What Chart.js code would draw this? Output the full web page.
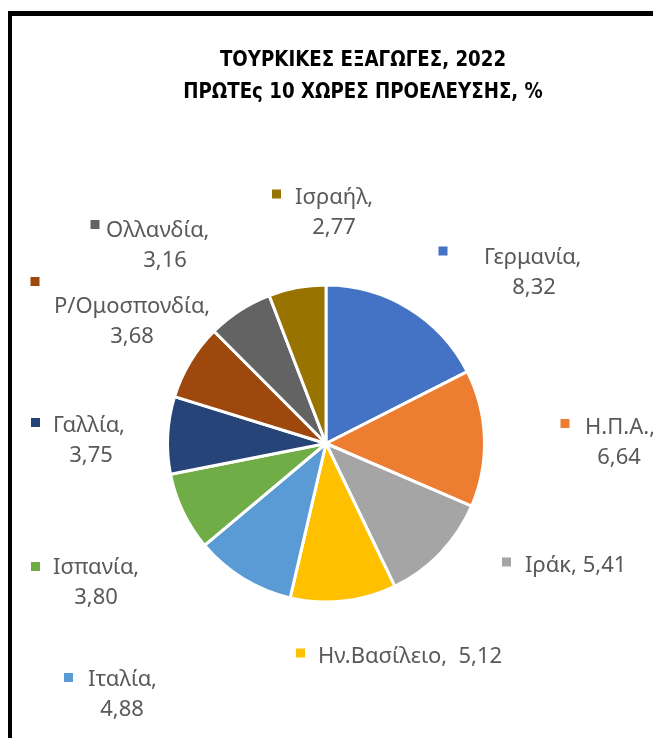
<!DOCTYPE html>
<html>
<head>
<meta charset="utf-8">
<script src="https://cdn.jsdelivr.net/npm/chart.js@4.4.1/dist/chart.umd.min.js"></script>
<style>
  html, body { margin: 0; padding: 0; background: #fff; }
  #frame { position: absolute; left: 8px; top: 11px; right: 0; bottom: 0; border-top: 5px solid #000; border-left: 4px solid #000; }
  canvas { position: absolute; left: 0; top: 0; }
</style>
</head>
<body>
<div id="frame"></div>
<canvas id="pie" width="653" height="738"></canvas>
<script>
"use strict";

// 1: data
const titleLines = ['ΤΟΥΡΚΙΚΕΣ ΕΞΑΓΩΓΕΣ, 2022', 'ΠΡΩΤΕς 10 ΧΩΡΕΣ ΠΡΟΕΛΕΥΣΗΣ, %'];
const countries = ['Γερμανία', 'Η.Π.Α.', 'Ιράκ', 'Ην.Βασίλειο', 'Ιταλία',
  'Ισπανία', 'Γαλλία', 'Ρ/Ομοσπονδία', 'Ολλανδία', 'Ισραήλ'];
const shares = [8.32, 6.64, 5.41, 5.12, 4.88, 3.80, 3.75, 3.68, 3.16, 2.77];
const sliceColours = ['#4472C4', '#ED7D31', '#A5A5A5', '#FFC000', '#5B9BD5',
  '#70AD47', '#264478', '#9E480E', '#636363', '#997300'];

// 2: where the (hand dragged) labels sit, px from the pie centre
// key = centre of the colour square, text = start of name + cap middle, mid = centre of value line
const labelSpots = [
  {key: [117, -192.5], text: [158, -187.5], mid: 208},
  {key: [239, -20], text: [259, -17.5], mid: 293},
  {key: [180.5, 118.5], text: [199, 121], sep: ', '},
  {key: [-25.5, 209.5], text: [-8, 211.5], sep: ',  '},
  {key: [-257.5, 234], text: [-238, 235], mid: -204},
  {key: [-290.5, 123], text: [-273, 123], mid: -230},
  {key: [-290.5, -21], text: [-273, -19], mid: -235},
  {key: [-291, -162], text: [null, -138], mid: -194},
  {key: [-231, -219], text: [-220, -214.5], mid: -161},
  {key: [-49.5, -249.5], text: [-31, -247], mid: 8}
];

const labelFont = '22px "Noto Sans"';
const labelColour = '#595959';
const lineGap = 30;

// 3: plugins for title and data labels
const excelTitle = {
  id: 'excelTitle',
  afterDraw(chart) {
    const ctx = chart.ctx;
    ctx.save();
    ctx.font = 'bold 22px "Liberation Sans Narrow", "DejaVu Sans Condensed", sans-serif';
    ctx.fillStyle = '#000';
    ctx.textAlign = 'center';
    ctx.textBaseline = 'alphabetic';
    // the original is Calibri bold, narrower than what we have
    ctx.translate(363, 0);
    ctx.scale(0.92, 1);
    titleLines.forEach((line, i) => {
      ctx.fillText(line, 0, 66 + i * 31.5);
    });
    ctx.restore();
  }
};

const pieLabels = {
  id: 'pieLabels',
  afterDatasetsDraw(chart) {
    const ctx = chart.ctx;
    const meta = chart.getDatasetMeta(0);
    const cx = meta.data[0].x;
    const cy = meta.data[0].y;
    ctx.save();
    ctx.font = labelFont;
    ctx.textBaseline = 'alphabetic';
    meta.data.forEach((arc, i) => {
      const spot = labelSpots[i];
      const name = chart.data.labels[i];
      const value = chart.data.datasets[0].data[i].toFixed(2).replace('.', ',');
      ctx.fillStyle = sliceColours[i];
      ctx.fillRect(cx + spot.key[0] - 4.5, cy + spot.key[1] - 4.5, 9, 9);
      ctx.fillStyle = labelColour;
      const base = cy + spot.text[1] + 7.8;
      if (spot.mid === undefined) {
        ctx.textAlign = 'left';
        ctx.fillText(name + spot.sep + value, cx + spot.text[0], base);
        return;
      }
      if (spot.text[0] === null) {
        ctx.textAlign = 'center';
        ctx.fillText(name + ',', cx + spot.mid, base);
      } else {
        ctx.textAlign = 'left';
        ctx.fillText(name + ',', cx + spot.text[0], base);
      }
      ctx.textAlign = 'center';
      ctx.fillText(value, cx + spot.mid, base + lineGap);
    });
    ctx.restore();
  }
};

// 4: the chart
function appendChart() {
  const chartContainer = document.getElementById('pie');
  new Chart(chartContainer, {
    type: 'pie',
    data: {
      labels: countries,
      datasets: [{
        data: shares,
        backgroundColor: sliceColours,
        borderColor: '#ffffff',
        borderWidth: 3
      }]
    },
    options: {
      responsive: false,
      animation: false,
      devicePixelRatio: 1,
      layout: {
        padding: {left: 166, right: 167, top: 283.5, bottom: 134.5}
      },
      plugins: {
        legend: {display: false},
        tooltip: {enabled: false},
        title: {display: false}
      }
    },
    plugins: [pieLabels, excelTitle]
  });
}

appendChart();
</script>
</body>
</html>
